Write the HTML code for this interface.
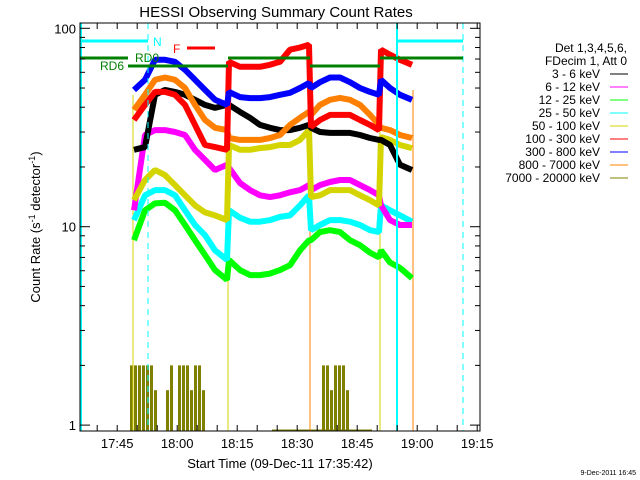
<!DOCTYPE html>
<html><head><meta charset="utf-8"><style>
body{margin:0;background:#fff;}
svg{display:block;font-family:"Liberation Sans",sans-serif;}
</style></head><body>
<svg id="c" width="640" height="480" viewBox="0 0 640 480">
<text x="276" y="17" font-size="15" text-anchor="middle">HESSI Observing Summary Count Rates</text>
<text transform="translate(40,227) rotate(-90)" font-size="13" text-anchor="middle">Count Rate (s<tspan dy="-5" font-size="9">-1</tspan><tspan dy="5"> detector</tspan><tspan dy="-5" font-size="9">-1</tspan><tspan dy="5">)</tspan></text>
<text x="280" y="468" font-size="13" text-anchor="middle">Start Time (09-Dec-11 17:35:42)</text>
<text x="636" y="475" font-size="7" text-anchor="end">9-Dec-2011 16:45</text>
<g id="legend" font-size="12"></g>
<g id="plot"></g>
</svg>
<script>
// time in minutes after 17:35:42
const times = [13.5,16.25,18.75,21.25,23.75,26.25,28.75,31.25,33.75,36.75,37.25,40,42.5,45,47.5,50,52.5,55,57.25,57.75,60,62.5,65,67.5,70,72.5,74.75,75.25,77.5,80,83];
const s3_6 = [24.4,25.2,46.2,48.9,47.8,46.2,43.6,41.1,39.7,41.1,41.1,37.9,35.4,32.6,31.5,30.7,30.7,31.5,32.6,31.5,30,29.7,29.7,29.7,29,28,27.4,27.4,25.8,20.5,19.3];
const s6_12 = [12.1,29,30.7,30.7,30,29,24.4,21.7,19.3,20.5,19.8,16.6,15.3,14.4,14.1,14.4,14.9,15.3,16.2,15.3,16.2,16.8,17.2,17.2,16.2,15.3,14.4,12.8,10.8,10.2,10.2];
const s12_25 = [8.55,12.1,13.1,13.2,12.1,10.2,8.55,7.2,6.04,5.4,6.8,6.04,5.7,5.7,5.8,6.04,6.4,7.6,8.55,8.55,9.4,9.6,9.4,8.55,8.07,7.4,7.0,7.6,6.6,6.2,5.5];
const s25_50 = [10.8,14.4,15.3,15.3,14.4,12.1,10.2,9.06,7.6,6.8,12.1,11.1,10.6,10.6,10.8,11.2,11.4,12.8,14.4,9.6,10.2,10.8,10.8,10.6,10.2,9.6,9.4,12.8,12.1,11.4,10.6];
const s50_100 = [13.6,17.2,19.3,18.2,16.2,14.4,12.8,11.8,11.4,10.8,25.8,24.4,24.4,24.9,25.2,25.8,25.8,27.4,30.7,14.1,14.4,15.3,15.3,15.3,14.4,13.6,12.8,28.3,27.4,25.8,24.9];
const s100_300 = [34.5,41.1,47.8,47.8,46.2,41.1,32.6,25.8,25.2,24.4,67.8,64,64,64,65.5,67.8,78,80,82.6,31.8,34.5,36.6,36.6,36.6,34.5,32.6,30.7,78,73.6,69.4,65.5];
const s300_800 = [48.9,55,69.4,69.4,67.8,61.8,55,48.9,43.6,41.1,47.8,45,44.5,44.5,45,46.2,47.3,50,53,50,53.5,56.5,56.5,53.5,50,47.8,46.2,55,50,46.2,43.6];
const s800_7000 = [38.8,46.2,55,56.5,55,50,41.1,34.5,31.5,30.7,28,27.4,27.4,27.4,28,29,32.6,35.4,37.9,36.6,41.1,43.6,44.6,43.6,41.1,36.6,32.6,31.5,30.7,29,28];
const olive = [2,2,2,2,2,2,1.5,0,0,1.5,2,0,2,2,2,1.5,2,2,1.5,0,0,0,0,0,0,0,0,0,0,0,0,0,0,0,0,0,0,0,0,0,0,0,0,0,0,0,0,0,2,2,1.5,2,2,2,1.5,0,0,0,0,0,0,0,0,0,0,0,0,0,0,0,0];
const oliveStart = 13;
const xTickLabels = ["17:45","18:00","18:15","18:30","18:45","19:00","19:15"];
const xTickMinutes = [9.3,24.3,39.3,54.3,69.3,84.3,99.3];
const yTickLabels = ["1","10","100"];
const yTickValues = [1,10,100];
const legendLabels = ["3 - 6 keV","6 - 12 keV","12 - 25 keV","25 - 50 keV","50 - 100 keV","100 - 300 keV","300 - 800 keV","800 - 7000 keV","7000 - 20000 keV"];

const NS="http://www.w3.org/2000/svg";
const L=80,R=480,T=23,B=431;
const xs=t=>L+t*4;
const ys=v=>425.1-198.4*Math.log10(v);
const plot=document.getElementById('plot');
function mk(tag,attrs,parent){const e=document.createElementNS(NS,tag);for(const k in attrs)e.setAttribute(k,attrs[k]);(parent||plot).appendChild(e);return e;}

// olive bars
olive.forEach((v,i)=>{ if(v<=0) return;
  const r=mk('rect',{x:xs(oliveStart+i)-2,y:ys(v),width:3,height:B-ys(v),fill:'#808000'});
  
  
});
const base=mk('line',{x1:xs(48),x2:xs(73),y1:B-1,y2:B-1,stroke:'#808000','stroke-width':1});



function ln(x1,y1,x2,y2,c,w,name,dash){const e=mk('line',{x1,y1,x2,y2,stroke:c,'stroke-width':w});if(dash)e.setAttribute('stroke-dasharray',dash);
  
  }
// mode-change verticals
ln(133,B,133,95,'#d4d400',1,'mode-change-line-start');
ln(228,B,228,70,'#d4d400',1,'mode-change-line-1');
ln(310,B,310,60,'#ff8000',1,'mode-change-line-2');
ln(380,B,380,60,'#d4d400',1,'mode-change-line-3');
ln(413,B,413,90,'#ff8000',1,'mode-change-line-end');

const series=[[s12_25,'#00ff00','series-12-25kev'],[s25_50,'#00ffff','series-25-50kev'],[s6_12,'#ff00ff','series-6-12kev'],[s50_100,'#d4d400','series-50-100kev'],[s3_6,'#000000','series-3-6kev'],[s800_7000,'#ff8000','series-800-7000kev'],[s100_300,'#ff0000','series-100-300kev'],[s300_800,'#0000ff','series-300-800kev']];
series.forEach(([d,c,n])=>{
  let p='';
  d.forEach((v,i)=>{p+=(i?'L':'M')+xs(times[i]).toFixed(1)+','+ys(v).toFixed(1);});
  const e=mk('path',{d:p,fill:'none',stroke:c,'stroke-width':6,'stroke-linejoin':'bevel'});
  
  
});

// annotations
ln(81,T,81,B,'#00ffff',2,'cyan-boundary-left');
ln(397,T,397,B,'#00ffff',2,'cyan-boundary-right');
ln(148,T,148,B,'#00ffff',1,'cyan-dashed-left','6,5');
ln(463,T,463,B,'#00ffff',1,'cyan-dashed-right','6,5');
ln(80,41,148,41,'#00ffff',3,'night-bar-left');
ln(397,41,463,41,'#00ffff',3,'night-bar-right');
ln(187,48,215,48,'#ff0000',3,'flare-bar');
ln(80,58,128,58,'#008000',3,'rd-bar-1');
ln(128,66,228,66,'#008000',3,'rd-bar-2');
ln(228,58,310,58,'#008000',3,'rd-bar-3');
ln(310,66,380,66,'#008000',3,'rd-bar-4');
ln(380,58,463,58,'#008000',3,'rd-bar-5');
function tx(x,y,s,c,name,size,anchor){const e=mk('text',{x,y,fill:c,'font-size':size||12,'text-anchor':anchor||'start'});e.textContent=s;
  
  return e;}
tx(153,46,'N','#00ffff','night-label');
tx(173,53,'F','#ff0000','flare-label');
tx(135,62,'RD0','#008000','rd0-label');
tx(100,70,'RD6','#008000','rd6-label');

// axes box
const box=mk('rect',{x:L,y:T,width:R-L,height:B-T,fill:'none',stroke:'#000','stroke-width':1});


for(let m=0;m<=100;m+=5){const t=m+4.3;if(t>100)break;const x=xs(t);
  const a=mk('line',{x1:x,x2:x,y1:B,y2:B-6,stroke:'#000'});
  
  
  const b=mk('line',{x1:x,x2:x,y1:T,y2:T+6,stroke:'#000'});
  
  }
xTickLabels.forEach((s,i)=>tx(xs(xTickMinutes[i]),448,s,'#000','x-tick-label',13,'middle'));
for(let d=0;d<2;d++)for(let k=2;k<=9;k++){const y=ys(k*Math.pow(10,d));
  const a=mk('line',{x1:L,x2:L+5,y1:y,y2:y,stroke:'#000'});
  
  
  const b=mk('line',{x1:R,x2:R-5,y1:y,y2:y,stroke:'#000'});
  
  }
yTickValues.forEach((v,i)=>{const y=ys(v);
  const a=mk('line',{x1:L,x2:L+10,y1:y,y2:y,stroke:'#000'});
  
  
  const b=mk('line',{x1:R,x2:R-10,y1:y,y2:y,stroke:'#000'});
  
  
  tx(L-4,y+5,yTickLabels[i],'#000','y-tick-label',13,'end');});

// legend
const lg=document.getElementById('legend');
const colors=['#000000','#ff00ff','#00ff00','#00ffff','#d4d400','#ff0000','#0000ff','#ff8000','#808000'];
function ltx(y,s,name){const e=document.createElementNS(NS,'text');e.setAttribute('x',627);e.setAttribute('y',y);e.setAttribute('text-anchor','end');e.textContent=s;
  
  lg.appendChild(e);}
ltx(52,'Det 1,3,4,5,6,','legend-detectors');
ltx(65,'FDecim 1, Att 0','legend-decimation');
legendLabels.forEach((s,i)=>{const y=78+i*13;
  const e=document.createElementNS(NS,'text');e.setAttribute('x',600);e.setAttribute('y',y);e.setAttribute('text-anchor','end');e.textContent=s;
  
  lg.appendChild(e);
  const l=document.createElementNS(NS,'line');l.setAttribute('x1',610);l.setAttribute('x2',628);l.setAttribute('y1',y-4);l.setAttribute('y2',y-4);l.setAttribute('stroke',colors[i]);
  
  lg.appendChild(l);});
</script>
</body></html>
